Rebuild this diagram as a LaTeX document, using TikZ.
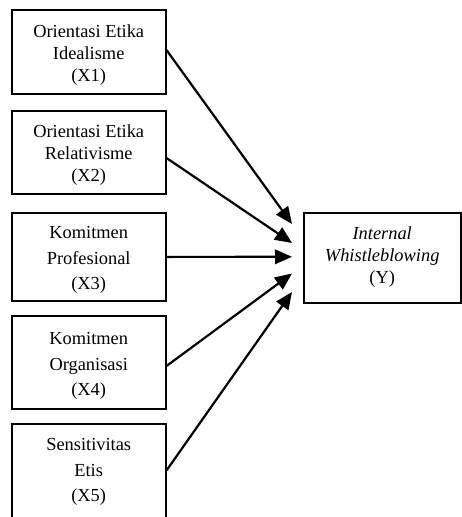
\documentclass[tikz,border=0pt]{standalone}
\usepackage{fontspec}
\setmainfont{Liberation Serif}
\usetikzlibrary{arrows.meta}
\begin{document}
\begin{tikzpicture}[x=1pt,y=-1pt,
  box/.style={draw, line width=1.6pt, minimum width=154pt, inner sep=0pt},
  ybox/.style={draw, line width=1.6pt, minimum width=157pt, minimum height=90pt, inner sep=0pt},
  lbl/.style={align=center, inner sep=0pt, font=\fontsize{18.4}{21.7}\selectfont},
  lblw/.style={align=center, inner sep=0pt, font=\fontsize{18.4}{25.5}\selectfont},
  arr/.style={line width=2.2pt, -{Triangle[length=17pt,width=14.5pt]}}]
\useasboundingbox (0,0) rectangle (462,517);
\clip (0,0) rectangle (462,517);
% boxes
\node[box, minimum height=84pt] (x1) at (88.7,52) {};
\node[box, minimum height=83pt] (x2) at (88.7,152.5) {};
\node[box, minimum height=88pt] (x3) at (88.7,256.9) {};
\node[box, minimum height=93pt] (x4) at (88.7,362.5) {};
\node[box, minimum height=97pt] (x5) at (88.7,472.5) {};
\node[ybox] (y) at (382.2,257.7) {};
% texts
\node[lbl] (t1) at (88.7,55) {Orientasi Etika\\Idealisme\\(X1)};
\node[lbl] (t2) at (88.7,155) {Orientasi Etika\\Relativisme\\(X2)};
\node[lblw] (t3) at (88.7,260) {Komitmen\\Profesional\\(X3)};
\node[lblw] (t4) at (88.7,366) {Komitmen\\Organisasi\\(X4)};
\node[lblw] (t5) at (88.7,472) {Sensitivitas\\Etis\\(X5)};
\node[lbl] (ty) at (382.2,257) {\textit{Internal}\\\textit{Whistleblowing}\\(Y)};
% arrow ends
\coordinate (e1) at (292,224);
\coordinate (e2) at (292,243);
\coordinate (e3) at (292,256.8);
\coordinate (e4) at (292,273.5);
\coordinate (e5) at (292,292);
\draw[arr] ([yshift=2pt]x1.east) -- (e1);
\draw[arr] ([yshift=-5.5pt]x2.east) -- (e2);
\draw[arr] (x3.east) -- (e3);
\draw[arr] ([yshift=-3.5pt]x4.east) -- (e4);
\draw[arr] ([yshift=2pt]x5.east) -- (e5);
\end{tikzpicture}
\end{document}
